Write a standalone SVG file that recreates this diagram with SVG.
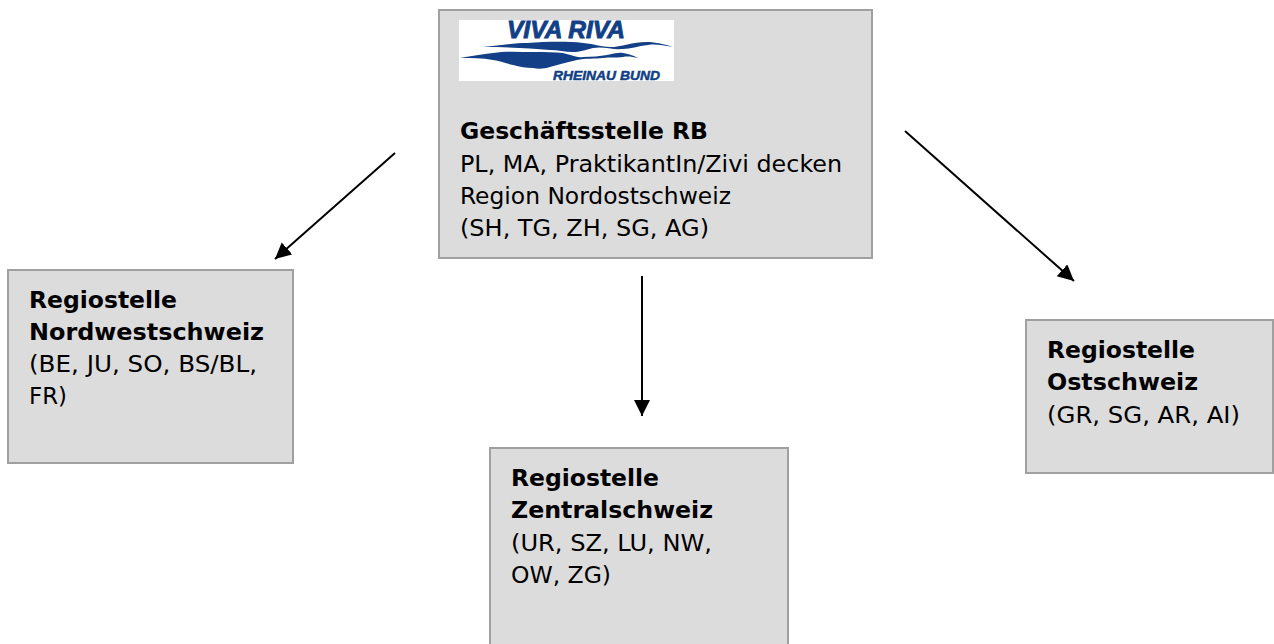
<svg xmlns="http://www.w3.org/2000/svg" width="1274" height="644" viewBox="0 0 1274 644">
<style>
.box{fill:#dcdcdc;stroke:#a0a0a0;stroke-width:2}
text{font-family:"DejaVu Sans Condensed","DejaVu Sans","Liberation Sans",sans-serif;font-size:22.5px;fill:#000}
.b{font-weight:bold}
.logo{font-family:"Liberation Sans",sans-serif;font-weight:bold;font-style:italic;fill:#123f85;stroke:#123f85;stroke-width:.9}
.wave{fill:#123f85}
.c{stroke:#000;stroke-width:2;fill:none;marker-end:url(#a)}
</style>
<defs><marker id="a" markerUnits="userSpaceOnUse" markerWidth="18" markerHeight="18" refX="16" refY="8" orient="auto"><path d="M0 0L16 8L0 16Z" fill="#000"/></marker></defs>
<rect width="1274" height="644" fill="#fff"/>
<g id="connectors">
<line class="c" x1="395" y1="153" x2="275" y2="259"/>
<line class="c" x1="642" y1="276" x2="642" y2="416"/>
<line class="c" x1="905" y1="131" x2="1074" y2="281"/>
</g>
<g id="geschaeftsstelle">
<rect class="box" x="439" y="10" width="433" height="248"/>
<rect x="459" y="20" width="215" height="61" fill="#fff"/>
<text class="logo" x="507" y="38" textLength="118" lengthAdjust="spacingAndGlyphs" style="font-size:24px">VIVA RIVA</text>
<path class="wave" d="M483 47C500 45 515 43 527 43C545 42 565 41 583 43C595 44 602 47 610 47C622 47 635 41 650 42C660 43 667 45 673 47C662 45 655 44 648 45C638 46 630 49 623 49C612 50 603 46 593 48C585 50 580 52 573 52C565 52 558 50 550 50C530 48 505 47 483 47Z"/>
<path class="wave" d="M460 58C472 56 482 54 493 53C508 51 520 52 533 52C545 52 555 52 563 53C572 55 577 58 583 57C592 57 600 56 607 55C613 54 618 52 623 53C630 54 634 56 638 58C633 57 628 56 623 57C615 58 610 57 603 58C595 59 585 58 577 60C567 62 558 65 550 67C544 69 538 69 533 68C526 68 520 67 513 65C505 63 500 61 493 60C482 58 472 58 460 58Z"/>
<text class="logo" x="553" y="80" textLength="107" lengthAdjust="spacingAndGlyphs" style="font-size:13px;stroke-width:.5">RHEINAU BUND</text>
<text class="b" x="460" y="139" textLength="248" lengthAdjust="spacingAndGlyphs">Geschäftsstelle RB</text>
<text x="460" y="172" textLength="382" lengthAdjust="spacingAndGlyphs">PL, MA, PraktikantIn/Zivi decken</text>
<text x="460" y="204" textLength="271" lengthAdjust="spacingAndGlyphs">Region Nordostschweiz</text>
<text x="460" y="236" textLength="249" lengthAdjust="spacingAndGlyphs">(SH, TG, ZH, SG, AG)</text>
</g>
<g id="nordwest">
<rect class="box" x="8" y="270" width="285" height="193"/>
<text class="b" x="29" y="308" textLength="148" lengthAdjust="spacingAndGlyphs">Regiostelle</text>
<text class="b" x="29" y="340" textLength="235" lengthAdjust="spacingAndGlyphs">Nordwestschweiz</text>
<text x="29" y="372" textLength="228" lengthAdjust="spacingAndGlyphs">(BE, JU, SO, BS/BL,</text>
<text x="29" y="404" textLength="38" lengthAdjust="spacingAndGlyphs">FR)</text>
</g>
<g id="zentral">
<rect class="box" x="490" y="448" width="298" height="210"/>
<text class="b" x="511" y="486" textLength="148" lengthAdjust="spacingAndGlyphs">Regiostelle</text>
<text class="b" x="511" y="518" textLength="202" lengthAdjust="spacingAndGlyphs">Zentralschweiz</text>
<text x="511" y="551" textLength="201" lengthAdjust="spacingAndGlyphs">(UR, SZ, LU, NW,</text>
<text x="511" y="583" textLength="100" lengthAdjust="spacingAndGlyphs">OW, ZG)</text>
</g>
<g id="ost">
<rect class="box" x="1026" y="320" width="247" height="153"/>
<text class="b" x="1047" y="358" textLength="148" lengthAdjust="spacingAndGlyphs">Regiostelle</text>
<text class="b" x="1047" y="390" textLength="151" lengthAdjust="spacingAndGlyphs">Ostschweiz</text>
<text x="1047" y="423" textLength="193" lengthAdjust="spacingAndGlyphs">(GR, SG, AR, AI)</text>
</g>
</svg>
